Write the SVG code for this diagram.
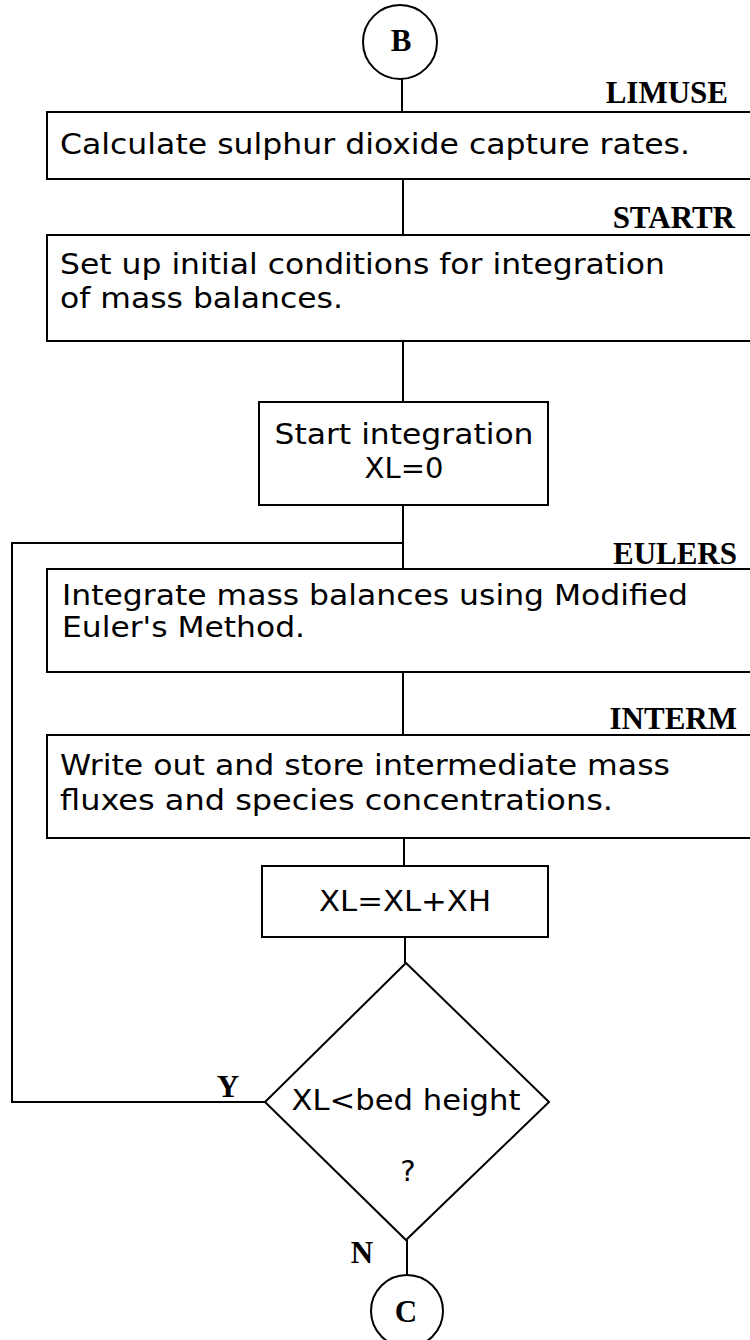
<svg xmlns="http://www.w3.org/2000/svg" width="750" height="1340" viewBox="0 0 750 1340">
  <style>
    .box { fill: #fff; stroke: #000; stroke-width: 2; }
    .wire { fill: none; stroke: #000; stroke-width: 2; }
    .txt { font-family: "DejaVu Sans", "Liberation Sans", sans-serif; font-size: 29px; fill: #000; }
    .lbl { font-family: "Liberation Serif", "DejaVu Serif", serif; font-weight: bold; font-size: 31px; fill: #000; }
  </style>
  <rect width="750" height="1340" fill="#fff"/>

  <!-- connectors -->
  <g id="connectors" class="wire">
    <line x1="402" y1="79" x2="402" y2="112"/>
    <line x1="403" y1="179" x2="403" y2="235"/>
    <line x1="403" y1="341" x2="403" y2="402"/>
    <line x1="403" y1="505" x2="403" y2="569"/>
    <polyline points="403,543 12,543 12,1102 265,1102"/>
    <line x1="403" y1="672" x2="403" y2="735"/>
    <line x1="404" y1="838" x2="404" y2="866"/>
    <line x1="405" y1="937" x2="405" y2="963"/>
    <line x1="407" y1="1240" x2="407" y2="1275"/>
  </g>

  <!-- entry connector B -->
  <g id="conn-b">
    <circle class="box" cx="400" cy="42" r="37"/>
    <text class="lbl" x="401" y="51" text-anchor="middle">B</text>
  </g>

  <!-- sulphur dioxide capture -->
  <g id="limuse">
    <text class="lbl" x="728" y="103" text-anchor="end">LIMUSE</text>
    <rect class="box" x="47" y="112" width="710" height="67"/>
    <text class="txt" x="60" y="154" textLength="630" lengthAdjust="spacingAndGlyphs">Calculate sulphur dioxide capture rates.</text>
  </g>

  <!-- initial conditions -->
  <g id="startr">
    <text class="lbl" x="735" y="228" text-anchor="end">STARTR</text>
    <rect class="box" x="47" y="235" width="710" height="106"/>
    <text class="txt" x="60" y="274" textLength="605" lengthAdjust="spacingAndGlyphs">Set up initial conditions for integration</text>
    <text class="txt" x="60" y="308" textLength="283" lengthAdjust="spacingAndGlyphs">of mass balances.</text>
  </g>

  <!-- start of integration -->
  <g id="start">
    <rect class="box" x="259" y="402" width="289" height="103"/>
    <text class="txt" x="404" y="444" text-anchor="middle" textLength="259" lengthAdjust="spacingAndGlyphs">Start integration</text>
    <text class="txt" x="404" y="478" text-anchor="middle">XL=0</text>
  </g>

  <!-- Euler step -->
  <g id="eulers">
    <text class="lbl" x="737" y="564" text-anchor="end">EULERS</text>
    <rect class="box" x="47" y="569" width="710" height="103"/>
    <text class="txt" x="62" y="605" textLength="626" lengthAdjust="spacingAndGlyphs">Integrate mass balances using Modified</text>
    <text class="txt" x="62" y="637" textLength="243" lengthAdjust="spacingAndGlyphs">Euler's Method.</text>
  </g>

  <!-- intermediate output -->
  <g id="interm">
    <text class="lbl" x="737" y="729" text-anchor="end">INTERM</text>
    <rect class="box" x="47" y="735" width="710" height="103"/>
    <text class="txt" x="60" y="775" textLength="610" lengthAdjust="spacingAndGlyphs">Write out and store intermediate mass</text>
    <text class="txt" x="60" y="810" textLength="553" lengthAdjust="spacingAndGlyphs">fluxes and species concentrations.</text>
  </g>

  <!-- step increment -->
  <g id="step">
    <rect class="box" x="262" y="866" width="286" height="71"/>
    <text class="txt" x="405" y="911" text-anchor="middle" textLength="172" lengthAdjust="spacingAndGlyphs">XL=XL+XH</text>
  </g>

  <!-- bed height test -->
  <g id="test">
    <polygon class="box" points="406,963 549,1102 406,1240 265,1102"/>
    <text class="txt" x="406" y="1110" text-anchor="middle" textLength="229" lengthAdjust="spacingAndGlyphs">XL&lt;bed height</text>
    <text class="txt" x="408" y="1181" text-anchor="middle">?</text>
    <text class="lbl" x="228" y="1097" text-anchor="middle">Y</text>
    <text class="lbl" x="362" y="1263" text-anchor="middle">N</text>
  </g>

  <!-- exit connector C -->
  <g id="conn-c">
    <circle class="box" cx="407" cy="1311" r="36"/>
    <text class="lbl" x="406" y="1322" text-anchor="middle">C</text>
  </g>
</svg>
